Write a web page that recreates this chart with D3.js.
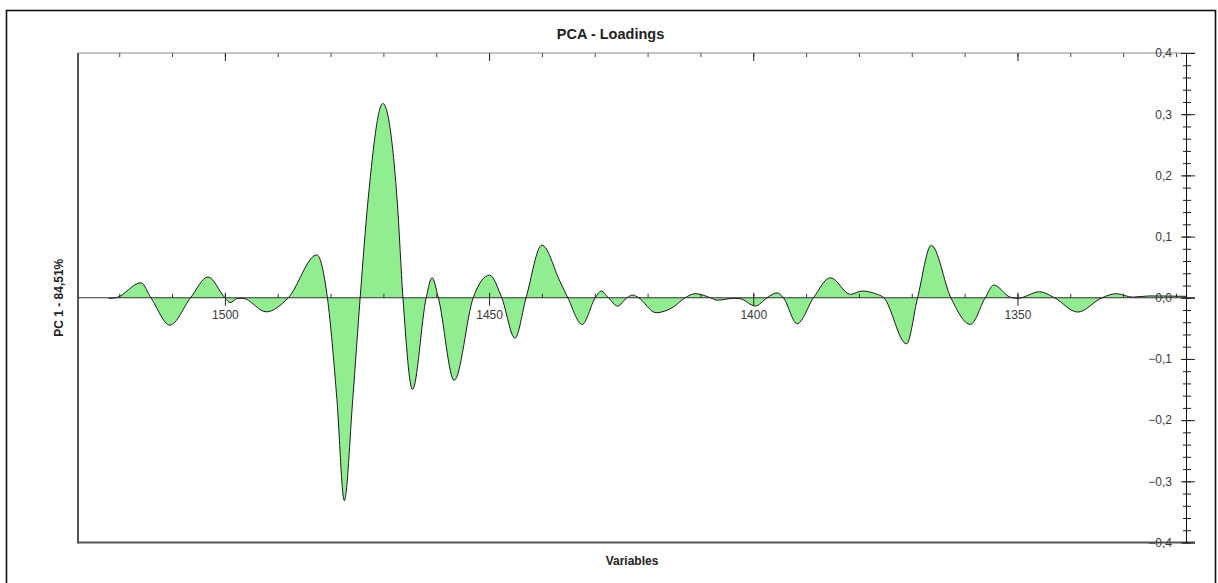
<!DOCTYPE html>
<html>
<head>
<meta charset="utf-8">
<script src="https://cdn.jsdelivr.net/npm/d3@7"></script>
<style>
  html, body { margin: 0; padding: 0; background: #fff; }
  svg { display: block; font-family: "Liberation Sans", Arial, sans-serif; }
  .tick text { fill: #3a3a3a; font-size: 12px; }
</style>
</head>
<body>
<svg id="chart" width="1218" height="583"></svg>
<script>
// Wavenumber positions (cm-1) of the PC 1 loading profile
const wavenumbers = [
  1522.0, 1520.6, 1515.9, 1514.0, 1510.4, 1506.5, 1503.2, 1500.0, 1499.0, 1497.6,
  1496.6, 1492.2, 1488.0, 1482.6, 1480.6, 1478.8, 1477.4, 1475.8, 1474.4, 1472.9,
  1470.1, 1467.4, 1466.3, 1464.5, 1461.9, 1460.8, 1459.6, 1456.6, 1453.0, 1449.9,
  1447.6, 1445.1, 1443.0, 1440.0, 1436.6, 1435.1, 1432.4, 1429.9, 1428.8, 1427.4,
  1425.7, 1423.9, 1422.8, 1421.7, 1418.4, 1415.1, 1412.9, 1411.0, 1408.1, 1406.9,
  1403.7, 1402.5, 1399.6, 1397.4, 1395.5, 1394.3, 1391.7, 1388.6, 1385.4, 1381.6,
  1379.4, 1376.9, 1375.3, 1371.0, 1368.9, 1366.3, 1362.6, 1358.9, 1356.1, 1354.5,
  1351.4, 1350.0, 1345.8, 1343.0, 1338.6, 1334.0, 1331.3, 1328.2, 1325.0, 1318.1
];

// PC 1 loadings at those wavenumbers
const loadings = [
  -0.001, 0.000, 0.0245, 0.000, -0.0447, 0.000, 0.034, 0.000, -0.008, -0.001,
  -0.001, -0.023, 0.000, 0.070, 0.000, -0.166, -0.3316, -0.166, 0.000, 0.160,
  0.3175, 0.160, 0.000, -0.150, 0.000, 0.0327, 0.000, -0.135, 0.000, 0.037,
  0.000, -0.066, 0.000, 0.086, 0.027, 0.000, -0.0436, 0.000, 0.011, 0.000,
  -0.0136, 0.000, 0.0044, 0.000, -0.0245, -0.015, 0.000, 0.0066, 0.000, -0.004,
  -0.001, -0.0015, -0.0136, 0.000, 0.008, 0.000, -0.0425, 0.000, 0.0327, 0.0055,
  0.011, 0.0066, 0.000, -0.0753, 0.000, 0.0857, 0.000, -0.0436, 0.000, 0.0208,
  0.001, -0.001, 0.0098, 0.000, -0.0234, 0.000, 0.0066, 0.001, 0.003, 0.0023
];

// Axis ticks
const xMajorTicks = [1500, 1450, 1400, 1350];
const xMinorTicks = d3.range(1320, 1521, 10);
const yMajorTicks = [-0.4, -0.3, -0.2, -0.1, 0.0, 0.1, 0.2, 0.3, 0.4];
const yMinorTicks = d3.range(-40, 41, 2).map(v => v / 100);

const titleText = "PCA - Loadings";
const xTitle = "Variables";
const yTitle = "PC 1 - 84,51%";

const points = wavenumbers.map((w, i) => ({ w, v: loadings[i] }));

const svg = d3.select("#chart");
const plotL = 78, plotR = 1186, plotT = 53, plotB = 542.5;

const x = d3.scaleLinear().domain([1527.8, 1318.1]).range([plotL, plotR]);
const y = d3.scaleLinear().domain([-0.4, 0.4]).range([plotB, plotT]);
const fmt = d => d3.format(".1f")(d).replace(".", ",").replace("-0,0", "0,0");

// outer frame
svg.append("rect")
  .attr("x", 6.5).attr("y", 10.5).attr("width", 1209).attr("height", 620)
  .attr("fill", "none").attr("stroke", "#111").attr("stroke-width", 1.6);

// plot box: left and bottom edges
svg.append("line").attr("x1", plotL).attr("x2", plotL).attr("y1", plotT).attr("y2", plotB + 1)
  .attr("stroke", "#555").attr("stroke-width", 2);
svg.append("line").attr("x1", plotL).attr("x2", plotR + 9).attr("y1", plotB).attr("y2", plotB)
  .attr("stroke", "#555").attr("stroke-width", 2);

// filled loadings
const curve = d3.curveMonotoneX;
svg.append("path").datum(points)
  .attr("fill", "#90ee90")
  .attr("d", d3.area().curve(curve).x(d => x(d.w)).y0(y(0)).y1(d => y(d.v)));

// top axis (ticks pointing down)
const topMinor = svg.append("g").attr("transform", `translate(0,${plotT})`)
  .call(d3.axisBottom(x).tickValues(xMinorTicks).tickSize(4).tickSizeOuter(0).tickFormat(""));
topMinor.select(".domain").remove();
topMinor.selectAll(".tick line").attr("stroke", "#444");
const topMajor = svg.append("g").attr("transform", `translate(0,${plotT})`)
  .call(d3.axisBottom(x).tickValues(xMajorTicks).tickSize(8).tickSizeOuter(0).tickFormat(""));
topMajor.select(".domain").remove();
topMajor.selectAll(".tick line").attr("stroke", "#222");
svg.append("line").attr("x1", plotL).attr("x2", plotR + 9).attr("y1", plotT).attr("y2", plotT)
  .attr("stroke", "#888").attr("stroke-width", 1);

// zero-line axis
const yZero = y(0);
const zMinor = svg.append("g").attr("transform", `translate(0,${yZero})`)
  .call(d3.axisTop(x).tickValues(xMinorTicks).tickSize(4).tickSizeOuter(0).tickFormat(""));
zMinor.select(".domain").remove();
zMinor.selectAll(".tick line").attr("stroke", "#333");
const zMajorUp = svg.append("g").attr("transform", `translate(0,${yZero})`)
  .call(d3.axisTop(x).tickValues(xMajorTicks).tickSize(5).tickSizeOuter(0).tickFormat(""));
zMajorUp.select(".domain").remove();
zMajorUp.selectAll(".tick line").attr("stroke", "#222");
const zMajor = svg.append("g").attr("transform", `translate(0,${yZero})`)
  .call(d3.axisBottom(x).tickValues(xMajorTicks).tickSize(8).tickPadding(4.5).tickSizeOuter(0).tickFormat(d3.format("d")));
zMajor.select(".domain").remove();
zMajor.selectAll(".tick line").attr("stroke", "#222");
svg.append("line").attr("x1", plotL).attr("x2", plotR + 9).attr("y1", yZero).attr("y2", yZero)
  .attr("stroke", "#333").attr("stroke-width", 1);

// loading curve outline
svg.append("path").datum(points)
  .attr("fill", "none").attr("stroke", "#1a1a1a").attr("stroke-width", 1)
  .attr("d", d3.line().curve(curve).x(d => x(d.w)).y(d => y(d.v)));

// right-hand value axis
const yMinL = svg.append("g").attr("transform", `translate(${plotR},0)`)
  .call(d3.axisLeft(y).tickValues(yMinorTicks).tickSize(3).tickSizeOuter(0).tickFormat(""));
yMinL.select(".domain").attr("stroke", "#111");
const yMinR = svg.append("g").attr("transform", `translate(${plotR},0)`)
  .call(d3.axisRight(y).tickValues(yMinorTicks).tickSize(5).tickSizeOuter(0).tickFormat(""));
yMinR.select(".domain").remove();
const yMajR = svg.append("g").attr("transform", `translate(${plotR},0)`)
  .call(d3.axisRight(y).tickValues(yMajorTicks).tickSize(9).tickSizeOuter(0).tickFormat(""));
yMajR.select(".domain").remove();
const yMajL = svg.append("g").attr("transform", `translate(${plotR},0)`)
  .call(d3.axisLeft(y).tickValues(yMajorTicks).tickSize(5).tickPadding(9).tickSizeOuter(0).tickFormat(fmt));
yMajL.select(".domain").remove();
[yMinL, yMinR, yMajR, yMajL].forEach(g => g.selectAll(".tick line").attr("stroke", "#222"));

// titles
svg.append("text").attr("x", 610.5).attr("y", 38.5).attr("text-anchor", "middle")
  .attr("font-size", 14.5).attr("font-weight", "bold").attr("fill", "#222").text(titleText);
svg.append("text").attr("x", (plotL + plotR) / 2).attr("y", 565).attr("text-anchor", "middle")
  .attr("font-size", 12).attr("font-weight", "bold").attr("fill", "#222").text(xTitle);
svg.append("text").attr("transform", `translate(62.5,${(plotT + plotB) / 2}) rotate(-90)`)
  .attr("text-anchor", "middle")
  .attr("font-size", 12).attr("font-weight", "bold").attr("fill", "#222").text(yTitle);
</script>
</body>
</html>
